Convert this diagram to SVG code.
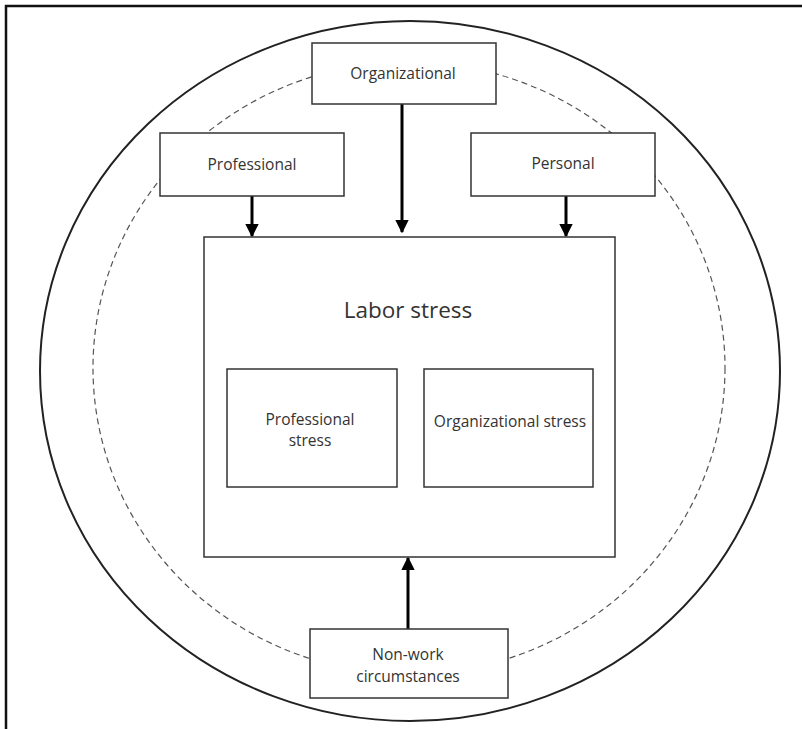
<svg xmlns="http://www.w3.org/2000/svg" width="802" height="729" viewBox="0 0 802 729">
<defs>
<style>
.box{fill:#fff;stroke:#333;stroke-width:1.5}
.t{font-family:"Open Sans","Liberation Sans",sans-serif;font-size:15.5px;fill:#333;text-anchor:middle}
.arr{stroke:#000;stroke-width:3;fill:none}
</style>
<marker id="ah" viewBox="0 0 10 10" refX="9" refY="5" markerWidth="4.5" markerHeight="4.5" orient="auto" markerUnits="strokeWidth">
<path d="M0,0 L10,5 L0,10 Z" fill="#000"/>
</marker>
</defs>
<rect width="802" height="729" fill="#fff"/>
<path d="M6,729 V6 H802" fill="none" stroke="#111" stroke-width="2.5"/>
<ellipse cx="410" cy="371" rx="370" ry="350" fill="none" stroke="#222" stroke-width="2"/>
<ellipse cx="409" cy="368" rx="316" ry="306" fill="none" stroke="#555" stroke-width="1.2" stroke-dasharray="6,4"/>
<g id="connectors">
<line class="arr" x1="252" y1="196" x2="252" y2="236" marker-end="url(#ah)"/>
<line class="arr" x1="402" y1="104" x2="402" y2="232" marker-end="url(#ah)"/>
<line class="arr" x1="566" y1="196" x2="566" y2="236" marker-end="url(#ah)"/>
<line class="arr" x1="408" y1="629" x2="408" y2="558" marker-end="url(#ah)"/>
</g>
<g id="organizational"><rect class="box" x="312" y="43" width="184" height="61"/><text class="t" x="403" y="79">Organizational</text></g>
<g id="professional"><rect class="box" x="160" y="133" width="184" height="63"/><text class="t" x="252" y="170">Professional</text></g>
<g id="personal"><rect class="box" x="471" y="133" width="184" height="63"/><text class="t" x="563" y="169">Personal</text></g>
<g id="labor-stress"><rect class="box" x="204" y="237" width="411" height="320"/><text class="t" x="408" y="318" style="font-size:22.5px">Labor stress</text></g>
<g id="professional-stress"><rect class="box" x="227" y="369" width="170" height="118"/><text class="t" x="310" y="425">Professional</text><text class="t" x="310" y="446">stress</text></g>
<g id="organizational-stress"><rect class="box" x="424" y="369" width="169" height="118"/><text class="t" x="510" y="427">Organizational stress</text></g>
<g id="non-work"><rect class="box" x="310" y="629" width="198" height="69"/><text class="t" x="408" y="660">Non-work</text><text class="t" x="408" y="682">circumstances</text></g>
</svg>
